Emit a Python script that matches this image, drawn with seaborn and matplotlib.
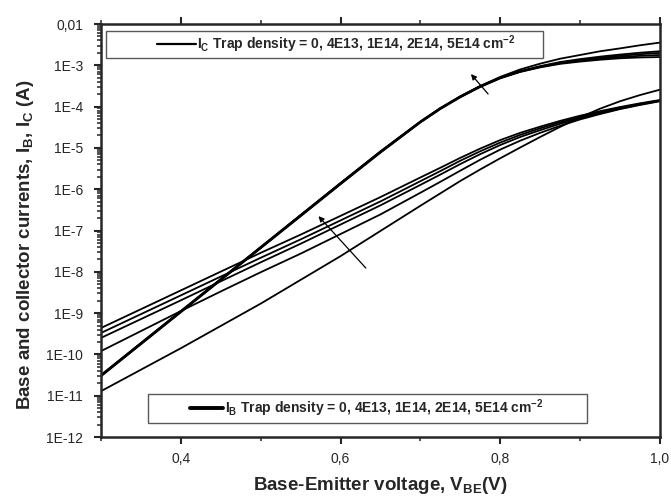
import numpy as np
import pandas as pd
import seaborn as sns
import matplotlib.pyplot as plt
from matplotlib.lines import Line2D
from matplotlib.patches import Rectangle
from matplotlib.ticker import MultipleLocator, LogLocator, NullFormatter

# Base-emitter voltage grid (V), finer where the curves bend
v_grid = [0.30, 0.35, 0.40, 0.45, 0.50, 0.55, 0.60, 0.65, 0.70, 0.725, 0.75, 0.775,
          0.80, 0.825, 0.85, 0.875, 0.90, 0.925, 0.95, 0.975, 1.00]

# log10 of base current, one list per trap density
ib_log = {
    'B0': [-10.89, -10.37, -9.85, -9.31, -8.77, -8.195, -7.62, -7.01, -6.40, -6.10, -5.80, -5.52,
           -5.25, -4.99, -4.735, -4.49, -4.26, -4.05, -3.87, -3.72, -3.59],
    'B1': [-9.92, -9.435, -8.95, -8.475, -8.01, -7.56, -7.085, -6.61, -6.085, -5.82, -5.55, -5.285,
           -5.04, -4.825, -4.635, -4.465, -4.31, -4.18, -4.06, -3.96, -3.87],
    'B2': [-9.60, -9.145, -8.69, -8.23, -7.77, -7.32, -6.855, -6.39, -5.895, -5.645, -5.39, -5.15,
           -4.93, -4.735, -4.57, -4.415, -4.28, -4.16, -4.05, -3.95, -3.86],
    'B3': [-9.48, -9.025, -8.57, -8.115, -7.66, -7.215, -6.755, -6.295, -5.805, -5.56, -5.31, -5.08,
           -4.87, -4.685, -4.525, -4.38, -4.25, -4.135, -4.03, -3.935, -3.85],
    'B4': [-9.36, -8.905, -8.45, -7.995, -7.54, -7.10, -6.645, -6.19, -5.715, -5.48, -5.24, -5.015,
           -4.81, -4.635, -4.485, -4.345, -4.22, -4.11, -4.01, -3.92, -3.84],
}

# log10 of collector current
ic_log = {
    'C0': [-10.50, -9.725, -8.95, -8.175, -7.40, -6.625, -5.85, -5.085, -4.36, -4.035, -3.75, -3.50,
           -3.28, -3.10, -2.96, -2.84, -2.75, -2.66, -2.59, -2.515, -2.45],
    'C1': [-10.50, -9.725, -8.95, -8.175, -7.40, -6.625, -5.85, -5.085, -4.36, -4.035, -3.75, -3.50,
           -3.30, -3.14, -3.02, -2.92, -2.85, -2.79, -2.74, -2.695, -2.66],
    'C2': [-10.51, -9.735, -8.96, -8.185, -7.41, -6.635, -5.86, -5.095, -4.37, -4.045, -3.76, -3.505,
           -3.30, -3.145, -3.03, -2.935, -2.87, -2.815, -2.77, -2.73, -2.70],
    'C3': [-10.52, -9.745, -8.97, -8.195, -7.42, -6.645, -5.87, -5.105, -4.375, -4.05, -3.765, -3.515,
           -3.31, -3.155, -3.04, -2.95, -2.89, -2.84, -2.80, -2.77, -2.75],
    'C4': [-10.53, -9.755, -8.98, -8.205, -7.43, -6.655, -5.88, -5.115, -4.385, -4.06, -3.775, -3.525,
           -3.315, -3.16, -3.05, -2.965, -2.91, -2.865, -2.83, -2.81, -2.80],
}

ytick_vals = [1e-12, 1e-11, 1e-10, 1e-9, 1e-8, 1e-7, 1e-6, 1e-5, 1e-4, 1e-3, 1e-2]
ytick_labels = ['1E-12', '1E-11', '1E-10', '1E-9', '1E-8', '1E-7', '1E-6', '1E-5', '1E-4', '1E-3', '0,01']
xtick_vals = [0.4, 0.6, 0.8, 1.0]
xtick_labels = ['0,4', '0,6', '0,8', '1,0']

legend_ic = r'I$_\mathregular{C}$ Trap density = 0, 4E13, 1E14, 2E14, 5E14 cm$^\mathregular{-2}$'
legend_ib = r'I$_\mathregular{B}$ Trap density = 0, 4E13, 1E14, 2E14, 5E14 cm$^\mathregular{-2}$'

# long-form table
rows = []
for group in (ib_log, ic_log):
    for name, vals in group.items():
        for v, lv in zip(v_grid, vals):
            rows.append({'V': v, 'I': 10 ** lv, 'curve': name})
df = pd.DataFrame(rows)

sns.set_style('ticks')
plt.rcParams['font.family'] = ['Liberation Sans', 'DejaVu Sans']
plt.rcParams['mathtext.default'] = 'regular'

fig = plt.figure(figsize=(6.71, 4.99), dpi=100)
ax = fig.add_axes([0.1505, 0.1242, 0.8331, 0.8277])

sns.lineplot(data=df, x='V', y='I', units='curve', estimator=None, color='black',
             lw=1.3, ax=ax, legend=False)

ax.set_yscale('log')
ax.set_xlim(0.3, 1.0)
ax.set_ylim(1e-12, 1e-2)

ax.set_xticks(xtick_vals)
ax.set_xticklabels(xtick_labels)
ax.xaxis.set_minor_locator(MultipleLocator(0.1))
ax.set_yticks(ytick_vals)
ax.set_yticklabels(ytick_labels)
ax.yaxis.set_minor_locator(LogLocator(base=10, subs=np.arange(2, 10), numticks=100))
ax.yaxis.set_minor_formatter(NullFormatter())

for s in ax.spines.values():
    s.set_linewidth(1.8)
ax.tick_params(axis='x', which='both', top=True, bottom=True, direction='out')
ax.tick_params(which='major', length=5, width=1.5, labelsize=10, pad=6)
ax.tick_params(axis='y', which='major', pad=8)
ax.tick_params(which='minor', length=3, width=1.1)
ax.tick_params(axis='y', which='both', right=False)

ax.set_xlabel(r'Base-Emitter voltage, V$_\mathregular{BE}$(V)', fontsize=13.5,
              fontweight='bold', labelpad=6)
ax.set_ylabel(r'Base and collector currents, I$_\mathregular{B}$, I$_\mathregular{C}$ (A)',
              fontsize=13.5, fontweight='bold')
ax.yaxis.set_label_coords(-0.117, 0.467)

# arrows showing increasing trap density
ax.annotate('', xy=(0.761, 6.9e-4), xytext=(0.787, 1.8e-4),
            arrowprops=dict(arrowstyle='-|>', lw=0.9, color='black', mutation_scale=8))
ax.annotate('', xy=(0.570, 2.5e-7), xytext=(0.634, 1.1e-8),
            arrowprops=dict(arrowstyle='-|>', lw=0.9, color='black', mutation_scale=8))

# legend boxes
ax.add_patch(Rectangle((0.009, 0.918), 0.782, 0.065, transform=ax.transAxes,
                       facecolor='white', edgecolor='0.35', lw=1.0, zorder=4))
ax.add_patch(Rectangle((0.084, 0.034), 0.785, 0.070, transform=ax.transAxes,
                       facecolor='white', edgecolor='0.35', lw=1.0, zorder=4))

leg1 = ax.legend([Line2D([], [], color='black', lw=1.6)], [legend_ic], loc='center',
                 bbox_to_anchor=(0.421, 0.951), frameon=False, handlelength=2.8,
                 handletextpad=0.1, prop={'weight': 'bold', 'size': 10})
leg1.set_zorder(5)
ax.add_artist(leg1)
leg2 = ax.legend([Line2D([], [], color='black', lw=2.8)], [legend_ib], loc='center',
                 bbox_to_anchor=(0.475, 0.069), frameon=False, handlelength=2.4,
                 handletextpad=0.1, prop={'weight': 'bold', 'size': 10})
leg2.set_zorder(5)

fig.savefig('out.png', dpi=100)
